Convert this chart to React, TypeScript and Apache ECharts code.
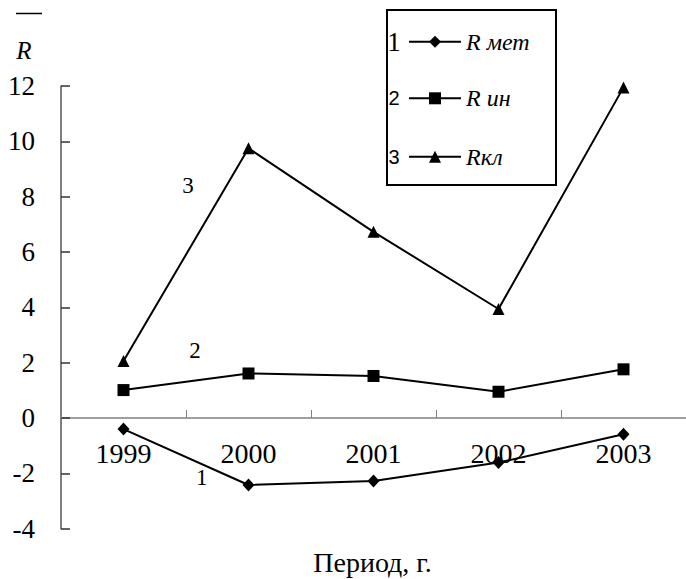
import React, { useEffect, useRef } from "react";
import * as echarts from "echarts";

const categories = ["1999", "2000", "2001", "2002", "2003"];
const seriesNames = ["R мет", "R ин", "Rкл"];
const rMet = [-0.4, -2.42, -2.28, -1.61, -0.59];
const rIn = [1.01, 1.61, 1.52, 0.95, 1.76];
const rKl = [2.06, 9.75, 6.73, 3.94, 11.95];
const legendNumbers = ["1", "2", "3"];

const SERIF = "Liberation Serif";
const SANS = "Liberation Sans";

export default function App() {
  const ref = useRef<HTMLDivElement>(null);
  useEffect(() => {
    if (!ref.current) return;
    const chart = echarts.init(ref.current, null, { renderer: "svg" });
    const symbols = ["diamond", "rect", "triangle"];
    const sizes: any[] = [[12, 13], 12, 12];
    const datas = [rMet, rIn, rKl];
    const legendTops = [29.7, 86.3, 144.7];
    chart.setOption({
      animation: false,
      backgroundColor: "#fff",
      textStyle: { fontFamily: SERIF },
      grid: { left: 61, top: 86, width: 627, height: 442.7, containLabel: false },
      xAxis: {
        type: "category",
        data: categories,
        boundaryGap: true,
        offset: -110.7,
        axisLine: { onZero: false, lineStyle: { color: "#808080", width: 1.5 } },
        axisTick: { show: true, inside: true, length: 8, lineStyle: { color: "#808080", width: 1 } },
        axisLabel: { color: "#000", fontFamily: SERIF, fontSize: 28, margin: 21 },
        splitLine: { show: false },
      },
      yAxis: {
        type: "value",
        min: -4,
        max: 12,
        interval: 2,
        axisLine: { show: true, lineStyle: { color: "#555", width: 1.5 } },
        axisTick: { show: true, inside: true, length: 9, lineStyle: { color: "#333", width: 1.5 } },
        axisLabel: { color: "#000", fontFamily: SERIF, fontSize: 27, margin: 26 },
        splitLine: { show: false },
      },
      legend: seriesNames.map((n, i) => ({
        data: [n],
        left: 408,
        top: legendTops[i],
        padding: 0,
        itemWidth: 52,
        itemHeight: 15,
        itemGap: 0,
        selectedMode: false,
        textStyle: { color: "#000", fontFamily: SERIF, fontSize: 24, fontStyle: "italic" },
        z: 5,
      })),
      series: seriesNames.map((n, i) => ({
        name: n,
        type: "line",
        data: datas[i],
        symbol: symbols[i],
        symbolSize: sizes[i],
        showSymbol: true,
        lineStyle: { color: "#000", width: 2 },
        itemStyle: { color: "#000" },
        z: 3,
      })),
      graphic: [
        {
          type: "rect",
          shape: { x: 387, y: 10, width: 169, height: 175 },
          style: { fill: "#fff", stroke: "#000", lineWidth: 2 },
          z: 1,
        },
        ...legendNumbers.map((t, i) => ({
          type: "text",
          x: 394,
          y: [41.7, 98.3, 156.7][i],
          style: {
            text: t,
            fontFamily: i === 0 ? SERIF : SANS,
            fontSize: i === 0 ? 27 : 20,
            fill: "#000",
            align: "center",
            verticalAlign: "middle",
          },
          z: 10,
        })),
        {
          type: "line",
          shape: { x1: 16, y1: 13.5, x2: 42, y2: 13.5 },
          style: { stroke: "#000", lineWidth: 1.5 },
        },
        {
          type: "text",
          x: 24,
          y: 50,
          style: { text: "R", fontFamily: SERIF, fontSize: 25, fontStyle: "italic", fill: "#000", align: "center", verticalAlign: "middle" },
        },
        {
          type: "text",
          x: 188,
          y: 185,
          style: { text: "3", fontFamily: SERIF, fontSize: 23, fill: "#000", align: "center", verticalAlign: "middle" },
        },
        {
          type: "text",
          x: 195,
          y: 350,
          style: { text: "2", fontFamily: SERIF, fontSize: 23, fill: "#000", align: "center", verticalAlign: "middle" },
        },
        {
          type: "text",
          x: 201.7,
          y: 477,
          style: { text: "1", fontFamily: SERIF, fontSize: 23, fill: "#000", align: "center", verticalAlign: "middle" },
        },
        {
          type: "text",
          x: 372.5,
          y: 562,
          style: { text: "Период, г.", fontFamily: SERIF, fontSize: 28, fill: "#000", align: "center", verticalAlign: "middle" },
        },
      ],
    });
    return () => chart.dispose();
  }, []);
  return <div ref={ref} style={{ width: 686, height: 579, position: "absolute", left: 0, top: 0 }} />;
}
